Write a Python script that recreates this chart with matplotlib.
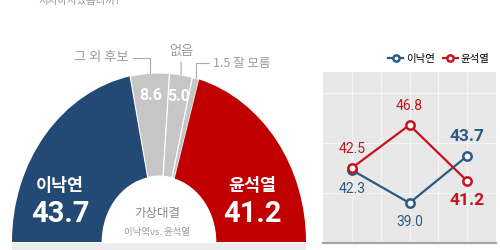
import matplotlib
matplotlib.use("Agg")
import matplotlib.pyplot as plt
import numpy as np

plt.rcParams['font.family'] = ['Noto Sans CJK KR', 'DejaVu Sans']

# donut data (virtual match-up)
names = ['이낙연', '그 외 후보', '없음', '잘 모름', '윤석열']
shares = [43.7, 8.6, 5.0, 1.5, 41.2]
donut_colors = ['#234a74', '#c6c6c6', '#c6c6c6', '#c6c6c6', '#c00000']

# trend data
x_pos = [0, 1, 2]
lee = [42.3, 39.0, 43.7]
yoon = [42.5, 46.8, 41.2]

BLUE = '#2b5a86'
RED = '#c4141c'

fig = plt.figure(figsize=(5, 2.5), dpi=100)


def px_axes(left, top, right, bottom, **kw):
    return fig.add_axes([left / 500, 1 - bottom / 250,
                         (right - left) / 500, (bottom - top) / 250], **kw)


# background layer in pixel coordinates
bg = px_axes(0, 0, 500, 250, zorder=0)
bg.set_xlim(0, 500)
bg.set_ylim(250, 0)
bg.axis('off')
bg.axhspan(243, 250, xmin=12 / 500, xmax=306 / 500, color='#ececec', lw=0)
bg.text(38, 4, '지지하시겠습니까?', fontsize=7.5, color='#9a9a9a', va='baseline', ha='left')

# semi donut
ax = px_axes(12, 73, 306, 242, zorder=1)
vals = shares + [sum(shares)]
cols = donut_colors + ['none']
wedges, _ = ax.pie(vals, colors=cols, startangle=180, counterclock=False,
                   radius=1, wedgeprops=dict(width=0.61, edgecolor='white', linewidth=0.8))
wedges[-1].set_visible(False)
wedges[0].set_linewidth(0)
wedges[4].set_linewidth(0)
ax.set_aspect('auto')
ax.set_xlim(-1, 1)
ax.set_ylim(0, 1)
ax.axis('off')

# top layer for texts over the donut
fg = px_axes(0, 0, 500, 250, zorder=5)
fg.set_xlim(0, 500)
fg.set_ylim(250, 0)
fg.axis('off')
fg.patch.set_alpha(0)


def mid(w, r):
    a = np.deg2rad((w.theta1 + w.theta2) / 2)
    return r * np.cos(a), r * np.sin(a)


num_font = ['Roboto', 'DejaVu Sans']

# values inside gray wedges
for i in (1, 2):
    mx, my = mid(wedges[i], 0.87)
    ax.text(mx, my, f'{shares[i]:.1f}', color='white', fontsize=11.5,
            fontweight='bold', ha='center', va='center', family=num_font)

# leader labels
gray_txt = '#9b9b9b'
line_kw = dict(arrowstyle='-', color='#aaaaaa', lw=0.8, shrinkA=1, shrinkB=0)
ax.annotate(names[1], xy=mid(wedges[1], 1.0), xytext=(129, 58), textcoords=bg.transData,
            ha='right', va='center', fontsize=9.5, color=gray_txt, annotation_clip=False,
            arrowprops=dict(connectionstyle='angle,angleA=0,angleB=90', **line_kw))
nx, ny = mid(wedges[2], 1.0)
ax.annotate(names[2], xy=(nx, ny), xytext=(nx, ny + 0.1),
            ha='center', va='bottom', fontsize=9.5, color=gray_txt, annotation_clip=False,
            arrowprops=dict(**line_kw))
ax.annotate(f'{shares[3]:.1f} {names[3]}', xy=mid(wedges[3], 1.0), xytext=(213, 63),
            textcoords=bg.transData, ha='left', va='center', fontsize=9, color=gray_txt,
            annotation_clip=False,
            arrowprops=dict(connectionstyle='angle,angleA=0,angleB=90', **line_kw))

# candidate labels
for name, val, xx in [(names[0], shares[0], 60), (names[4], shares[4], 252)]:
    fg.text(xx, 186, name, color='white', fontsize=12.5, fontweight='bold',
            ha='center', va='center')
    fg.text(xx, 214, f'{val:.1f}', color='white', fontsize=21, fontweight='bold',
            ha='center', va='center', family=num_font)

# center caption
fg.text(157, 214, '가상대결', color='#8a8a8a', fontsize=9, ha='center', va='center')
fg.text(157, 232, '이낙역vs. 윤석열', color='#9a9a9a', fontsize=6.8, ha='center', va='center')

# trend panel
ax2 = px_axes(323, 72, 496, 243, zorder=2)
ax2.set_facecolor('#e8e8e8')
ax2.set_xlim(-0.5, 2.5)
ax2.set_ylim(35, 52.1)
for gx in np.arange(0, 2.01, 0.5):
    ax2.axvline(gx, color='white', lw=0.6, alpha=0.7, zorder=0)
for gy in (40, 45, 50):
    ax2.axhline(gy, color='white', lw=0.6, alpha=0.7, zorder=0)
for s in ('top', 'left', 'right'):
    ax2.spines[s].set_visible(False)
ax2.spines['bottom'].set_color('#a5a5a5')
ax2.spines['bottom'].set_linewidth(1.6)
ax2.set_xticks([])
ax2.set_yticks([])

ax2.plot(x_pos, lee, color=BLUE, lw=1.6, marker='o', ms=6, mfc='white', mew=1.8,
         label='이낙연', zorder=3)
ax2.plot(x_pos, yoon, color=RED, lw=1.6, marker='o', ms=6, mfc='white', mew=1.8,
         label='윤석열', zorder=4)

for i, (a, b) in enumerate(zip(lee, yoon)):
    last = i == len(x_pos) - 1
    fs = 12.5 if last else 10
    fw = 'bold' if last else 'normal'
    a_off = 14 if a > b else -14
    b_off = 14 if b > a else -14
    ax2.annotate(f'{a:.1f}', (x_pos[i], a), xytext=(0, a_off), textcoords='offset points',
                 ha='center', va='center', color=BLUE, fontsize=fs, fontweight=fw, family=num_font)
    ax2.annotate(f'{b:.1f}', (x_pos[i], b), xytext=(0, b_off), textcoords='offset points',
                 ha='center', va='center', color=RED, fontsize=fs, fontweight=fw, family=num_font)

ax2.legend(loc='lower right', bbox_to_anchor=(1.0, 1.01), ncol=2, frameon=False,
           fontsize=7.5, handlelength=1.4, handletextpad=0.3, columnspacing=0.8,
           borderaxespad=0.2, markerscale=0.75)

fig.savefig('out.png', dpi=100)
